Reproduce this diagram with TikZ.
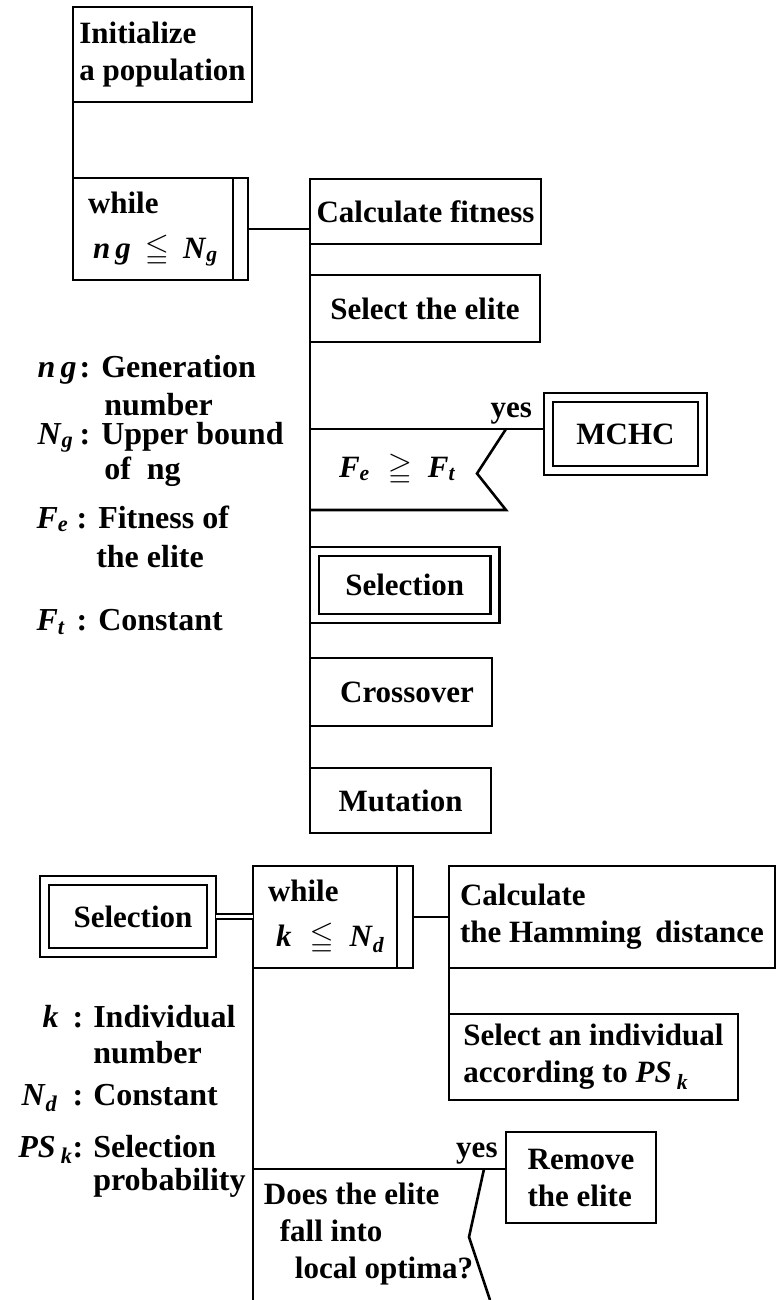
\documentclass[tikz,border=0pt]{standalone}
\usepackage{amssymb}
\usepackage{fontspec}
\setmainfont{Liberation Serif}
\usetikzlibrary{calc}
\newcommand{\vsub}[2]{\textit{#1}\textsubscript{\textit{#2}}}
\begin{document}
\begin{tikzpicture}[x=1pt,y=-1pt,line width=2.6pt,
  every node/.style={font=\fontsize{31}{37}\selectfont\bfseries},
  box/.style={draw,anchor=north west,inner sep=0pt,outer sep=0pt,align=left},
  dbox/.style={box,double,double distance=6.4pt,outer sep=4.5pt},
  cond/.style={anchor=north west,inner sep=0pt,outer sep=0pt,align=left},
  key/.style={anchor=base west,inner sep=0pt,font=\fontsize{32}{37}\selectfont\bfseries}]
\useasboundingbox (0,0) rectangle (779,1300);
\node[box,minimum width=179pt,minimum height=95pt] (init) at (73,7) {Initialize\\a population};
\node[box,text width=145pt,inner xsep=15pt,minimum height=102pt] (loop1) at (73,178) {while\\[8pt]\hspace*{5pt}\textit{n\,g}\hspace{14pt}$\leqq$\hspace{14pt}\vsub{N}{g}};
\draw ([xshift=-15pt]loop1.north east) -- ([xshift=-15pt]loop1.south east);
\node[box,minimum width=231pt,minimum height=65pt] (fit) at (310,179) {Calculate fitness};
\node[box,minimum width=230pt,minimum height=67pt] (elite) at (310,275) {Select the elite};
\node[cond,text width=138pt,inner xsep=29pt,minimum height=81pt] (cond1) at (310,429) {\vsub{F}{e}\hspace{18pt}$\geqq$\hspace{16pt}\vsub{F}{t}};
\node[dbox,minimum width=154pt,minimum height=73pt] (mchc) at (544,393) {MCHC};
\node[dbox,minimum width=180.5pt,minimum height=67pt] (sel1) at (310,547) {Selection};
\node[box,minimum width=182pt,minimum height=68pt] (cross) at (310,658) {\hspace*{12pt}Crossover};
\node[box,minimum width=181pt,minimum height=65pt] (mut) at (310,768) {Mutation};
\draw (init.south west) -- (loop1.north west);
\draw (loop1.east) -- (loop1.east -| fit.west);
\draw (fit.south west) -- (mut.north west);
\draw (cond1.north west) -- (cond1.north west -| mchc.west) node[pos=0.86,above] (yes1) {yes};
\draw (cond1.north east) -- ($(cond1.east)+(-29,4)$) -- (cond1.south east) -- (cond1.south west);
\node[key] (keyng) at (100,377) {\llap{\makebox[42pt][l]{\textit{n\,g}}:\hspace{11pt}}Generation};
\node[key] (keyng2) at (103,415) {number};
\node[key] (keyNg) at (100,444) {\llap{\makebox[42pt][l]{\vsub{N}{g}}:\hspace{11pt}}Upper bound};
\node[key] (keyNg2) at (103,479) {of~ ng};
\node[key] (keyFe) at (97,528) {\llap{\makebox[40pt][l]{\vsub{F}{e}}:\hspace{11pt}}Fitness of};
\node[key] (keyFe2) at (95,567) {the elite};
\node[key] (keyFt) at (97,630) {\llap{\makebox[40pt][l]{\vsub{F}{t}}:\hspace{11pt}}Constant};
\node[dbox,minimum width=167pt,minimum height=72pt] (sel2) at (40,876) {\hspace*{10pt}Selection};
\node[box,text width=130pt,inner xsep=15pt,minimum height=102pt] (loop2) at (253,866) {while\\[8pt]\hspace*{8pt}\textit{k}\hspace{18pt}$\leqq$\hspace{16pt}\vsub{N}{d}};
\draw ([xshift=-16pt]loop2.north east) -- ([xshift=-16pt]loop2.south east);
\node[box,minimum width=326pt,minimum height=102pt] (ham) at (449,866) {Calculate\\the Hamming\hspace{6pt} distance};
\node[box,minimum width=289pt,minimum height=86pt] (pick) at (449,1014) {Select an individual\\according to \textit{PS}\,\textsubscript{\textit{k}}};
\node[cond,minimum width=231pt,minimum height=131pt] (cond2) at (253,1169) {Does the elite\\\hspace*{16pt}fall into\\\hspace*{31pt}local optima?};
\node[box,minimum width=150pt,minimum height=91pt] (rem) at (506,1132) {Remove\\the elite};
\draw[double,double distance=2.6pt,line width=2.4pt] (sel2.east) -- (sel2.east -| loop2.west);
\draw (loop2.east) -- (loop2.east -| ham.west);
\draw (ham.south west) -- (pick.north west);
\draw (loop2.south west) -- (cond2.south west);
\draw (cond2.north west) -- (cond2.north west -| rem.west) node[pos=0.885,above] (yes2) {yes};
\draw (cond2.north east) -- ($(cond2.north east)+(-15,68)$) -- ($(cond2.south east)+(6,0)$);
\node[key] (keyk) at (92,1027) {\llap{\textit{k}\hspace{14pt}:\hspace{10pt}}Individual};
\node[key] (keyk2) at (92,1063) {number};
\node[key] (keyNd) at (92,1105) {\llap{\vsub{N}{d}\hspace{15pt}:\hspace{10pt}}Constant};
\node[key] (keyPS) at (92,1157) {\llap{\textit{PS}\,\textsubscript{\textit{k}}:\hspace{10pt}}Selection};
\node[key] (keyPS2) at (92,1190) {probability};
\end{tikzpicture}
\end{document}
